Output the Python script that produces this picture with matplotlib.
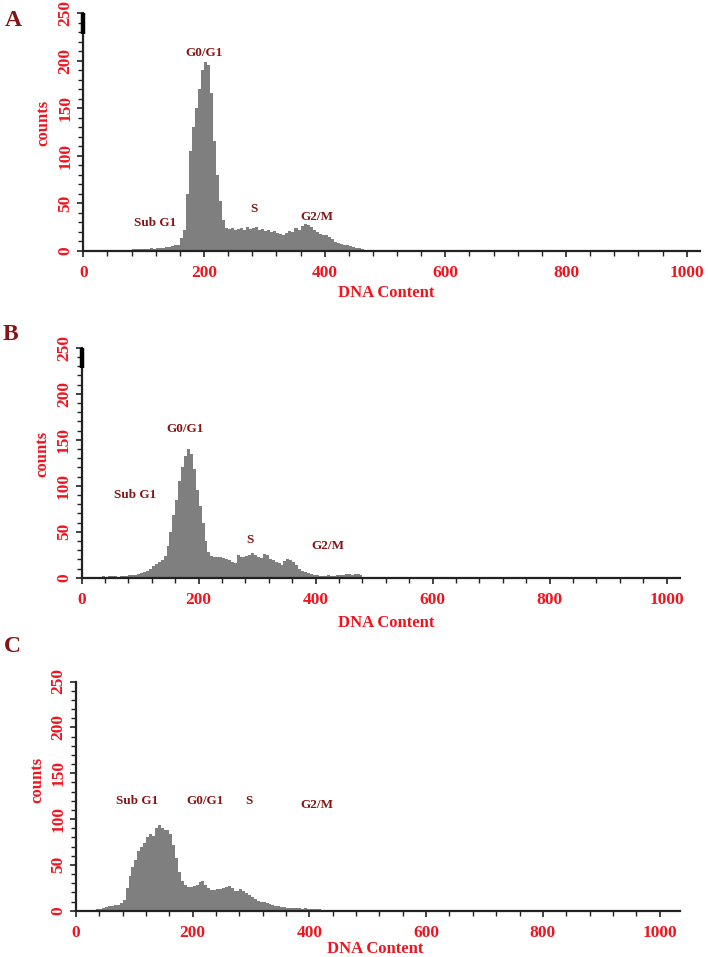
import matplotlib
matplotlib.use("Agg")
import matplotlib.pyplot as plt
from matplotlib.ticker import MultipleLocator
import numpy as np

# ---------------- data (bin width 5 DNA-content units) ----------------
bin_width = 5

a_start = 75
a_counts = [1, 2, 2, 2, 2, 2, 2, 3, 2, 3, 3, 3, 4, 4, 5, 6,
            6, 13, 22, 60, 105, 130, 150, 170, 190, 199, 195, 166, 115, 80, 52, 32,
            24, 23, 24, 22, 23, 24, 22, 25, 23, 24, 25, 22, 23, 21, 22, 20,
            21, 19, 18, 16, 19, 21, 20, 24, 22, 26, 28, 27, 25, 22, 20, 18,
            17, 16, 14, 12, 9, 8, 7, 6, 6, 5, 4, 3, 3, 2, 1, 1,
            1, 1, 1, 1]

b_start = 25
b_counts = [1, 1, 2, 1, 2, 2, 2, 1, 2, 2, 2, 3, 3, 3, 4, 5,
            6, 7, 10, 13, 15, 17, 19, 24, 35, 50, 68, 85, 105, 120, 132, 140,
            135, 118, 95, 78, 60, 40, 28, 24, 23, 22, 22, 21, 20, 19, 17, 16,
            25, 23, 22, 24, 25, 27, 25, 22, 21, 26, 25, 20, 19, 17, 16, 14,
            18, 20, 19, 17, 14, 10, 7, 6, 5, 4, 3, 3, 2, 2, 2, 3,
            2, 2, 3, 3, 3, 4, 4, 3, 4, 4, 3]

c_start = 35
c_counts = [2, 2, 3, 4, 5, 5, 6, 6, 8, 12, 25, 38, 48, 55, 65, 70,
            74, 80, 84, 82, 90, 94, 90, 88, 88, 84, 72, 58, 42, 32, 28, 26,
            26, 27, 28, 31, 32, 28, 25, 23, 23, 24, 24, 25, 26, 27, 25, 22,
            22, 24, 22, 19, 17, 15, 13, 11, 10, 9, 8, 7, 6, 5, 5, 4,
            4, 3, 3, 3, 3, 3, 2, 3, 2, 2, 2, 2, 2, 1, 1]

panel_letters = ["A", "B", "C"]
phase_labels = ["Sub G1", "G0/G1", "S", "G2/M"]
# label anchor positions (DNA content, counts) per panel
a_label_pos = [(119, 29), (200, 208), (283, 44), (387, 36)]
b_label_pos = [(91, 90), (177, 162), (288, 41), (421, 34)]
c_label_pos = [(105, 120), (221, 120), (297, 120), (412, 115)]

x_major = [0, 200, 400, 600, 800, 1000]
y_major = [0, 50, 100, 150, 200, 250]

# ---------------- style ----------------
W, H = 708, 957
FONT = "Liberation Serif"
RED = "#f0141e"
DARK = "#861414"
GRAY = "#7f7f7f"

fig = plt.figure(figsize=(W / 100, H / 100), dpi=100)

panels = [
    dict(counts=a_counts, start=a_start, pos=[83.3, 250.7, 700, 13.2], xmax=1022,
         labels=a_label_pos, letter_xy=(13, 20), counts_xy=(-0.0654, 0.54),
         dna_xy=(0.491, -0.178), brk=True),
    dict(counts=b_counts, start=b_start, pos=[81.7, 577.7, 680, 347.7], xmax=1023,
         labels=b_label_pos, letter_xy=(10, 335), counts_xy=(-0.0654, 0.54),
         dna_xy=(0.509, -0.197), brk=True),
    dict(counts=c_counts, start=c_start, pos=[76.0, 910.7, 680, 681.5], xmax=1035,
         labels=c_label_pos, letter_xy=(12, 647), counts_xy=(-0.0646, 0.572),
         dna_xy=(0.495, -0.165), brk=False),
]

for i, p in enumerate(panels):
    x0, yb, x1, yt = p["pos"]
    ax = fig.add_axes([x0 / W, 1 - yb / H, (x1 - x0) / W, (yb - yt) / H])
    vals = np.array(p["counts"], dtype=float)
    edges = p["start"] + bin_width * np.arange(len(vals) + 1)
    ax.stairs(vals, edges, fill=True, color=GRAY, linewidth=0)

    ax.set_xlim(0, p["xmax"])
    ax.set_ylim(0, 250)
    for s in ["top", "right"]:
        ax.spines[s].set_visible(False)
    for s in ["left", "bottom"]:
        ax.spines[s].set_linewidth(1.6)
        ax.spines[s].set_color("#222222")
    ax.spines["left"].set_bounds(0, 250)

    ax.set_xticks(x_major)
    ax.set_yticks(y_major)
    ax.xaxis.set_minor_locator(MultipleLocator(40))
    ax.yaxis.set_minor_locator(MultipleLocator(10))
    ax.tick_params(which="major", length=4.5, width=1.2, color="#222222", pad=6)
    ax.tick_params(which="minor", length=3.5, width=1.0, color="#222222")
    ax.tick_params(axis="y", which="major", pad=2.5)
    for lab in ax.get_xticklabels():
        lab.set_fontfamily(FONT)
        lab.set_fontweight("bold")
        lab.set_fontsize(12.5)
        lab.set_color(RED)
    for lab in ax.get_yticklabels():
        lab.set_fontfamily(FONT)
        lab.set_fontweight("bold")
        lab.set_fontsize(12.5)
        lab.set_color(RED)
        lab.set_rotation(90)
        lab.set_va("center")

    if p["brk"]:
        ax.plot([0, 0], [228, 250], color="black", linewidth=3.2,
                solid_capstyle="butt", clip_on=False, zorder=5)

    ax.set_ylabel("counts", fontfamily=FONT, fontweight="bold", fontsize=12, color=RED,
                  va="center")
    ax.yaxis.set_label_coords(*p["counts_xy"])
    ax.set_xlabel("DNA Content", fontfamily=FONT, fontweight="bold", fontsize=12, color=RED,
                  va="center")
    ax.xaxis.set_label_coords(*p["dna_xy"])

    for txt, (lx, ly) in zip(phase_labels, p["labels"]):
        ax.text(lx, ly, txt, fontfamily=FONT, fontweight="bold", fontsize=9.5,
                color=DARK, ha="center", va="center")

    lx, ly = p["letter_xy"]
    fig.text(lx / W, 1 - ly / H, panel_letters[i], fontfamily=FONT, fontweight="bold",
             fontsize=17, color=DARK, ha="center", va="center")

fig.savefig("out.png", dpi=100)
